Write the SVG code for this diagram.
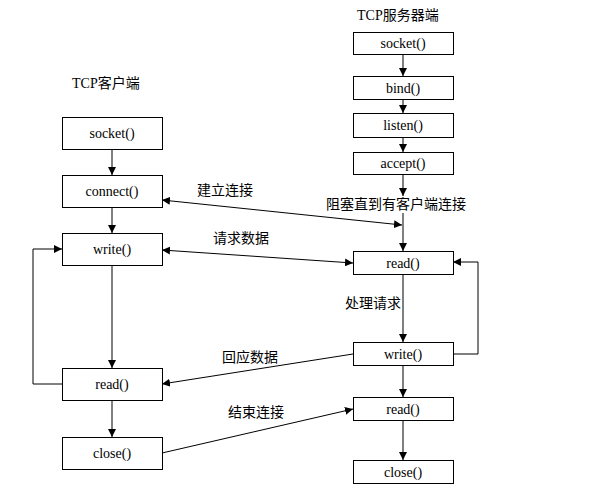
<svg xmlns="http://www.w3.org/2000/svg" width="593" height="495" viewBox="0 0 593 495">
<style>
.box{fill:#fff;stroke:#000;stroke-width:1}
.fn{font-family:"Liberation Serif","Noto Serif",serif;font-size:14px;fill:#000;text-anchor:middle;dominant-baseline:central}
.lbl{font-family:"Noto Sans CJK SC","Liberation Sans",sans-serif;font-size:14px;fill:#000}
.ttl{font-family:"Liberation Serif","Noto Sans CJK SC",serif;font-size:14px;fill:#000}
.ln{stroke:#000;stroke-width:1;fill:none}
</style>
<defs>
<marker id="ah" viewBox="0 0 10 10" refX="10" refY="5" markerWidth="8" markerHeight="8" markerUnits="userSpaceOnUse" orient="auto-start-reverse">
<path d="M0,0 L10,5 L0,10 Z" fill="#000"/>
</marker>
</defs>
<rect width="593" height="495" fill="#fff"/>
<text class="ttl" x="72" y="88">TCP<tspan font-family="Noto Sans CJK SC">客户端</tspan></text>
<text class="ttl" x="357" y="20">TCP<tspan font-family="Noto Sans CJK SC">服务器端</tspan></text>
<g id="connectors">
<line class="ln" x1="112" y1="149" x2="112" y2="175" marker-end="url(#ah)"/>
<line class="ln" x1="112" y1="207" x2="112" y2="233" marker-end="url(#ah)"/>
<line class="ln" x1="112" y1="265" x2="112" y2="368" marker-end="url(#ah)"/>
<line class="ln" x1="112" y1="400" x2="112" y2="437" marker-end="url(#ah)"/>
<polyline class="ln" points="62,384 33,384 33,249 62,249" marker-end="url(#ah)"/>
<line class="ln" x1="403" y1="54" x2="403" y2="76" marker-end="url(#ah)"/>
<line class="ln" x1="403" y1="99" x2="403" y2="113" marker-end="url(#ah)"/>
<line class="ln" x1="403" y1="137" x2="403" y2="152" marker-end="url(#ah)"/>
<line class="ln" x1="403" y1="174" x2="403" y2="196" marker-end="url(#ah)"/>
<line class="ln" x1="403" y1="213" x2="403" y2="251" marker-end="url(#ah)"/>
<line class="ln" x1="403" y1="274" x2="403" y2="342" marker-end="url(#ah)"/>
<line class="ln" x1="403" y1="365" x2="403" y2="397" marker-end="url(#ah)"/>
<line class="ln" x1="403" y1="420" x2="403" y2="460" marker-end="url(#ah)"/>
<polyline class="ln" points="453,354 478,354 478,262 453,262" marker-end="url(#ah)"/>
<line class="ln" x1="162" y1="200" x2="402" y2="225" marker-start="url(#ah)" marker-end="url(#ah)"/>
<line class="ln" x1="162" y1="250" x2="353" y2="263" marker-start="url(#ah)" marker-end="url(#ah)"/>
<line class="ln" x1="353" y1="354" x2="162" y2="384" marker-end="url(#ah)"/>
<line class="ln" x1="162" y1="453" x2="353" y2="409" marker-end="url(#ah)"/>
<text class="lbl" x="197" y="195">建立连接</text>
<text class="lbl" x="213" y="243">请求数据</text>
<text class="lbl" x="222" y="362">回应数据</text>
<text class="lbl" x="228" y="417">结束连接</text>
<text class="lbl" x="345" y="308">处理请求</text>
<text class="lbl" x="326" y="209">阻塞直到有客户端连接</text>
</g>
<g id="c-socket"><rect class="box" x="62.5" y="117.5" width="100" height="32"/><text class="fn" x="112" y="133">socket()</text></g>
<g id="c-connect"><rect class="box" x="62.5" y="175.5" width="100" height="32"/><text class="fn" x="112" y="191">connect()</text></g>
<g id="c-write"><rect class="box" x="62.5" y="233.5" width="100" height="32"/><text class="fn" x="112" y="249">write()</text></g>
<g id="c-read"><rect class="box" x="62.5" y="368.5" width="100" height="32"/><text class="fn" x="112" y="384">read()</text></g>
<g id="c-close"><rect class="box" x="62.5" y="437.5" width="100" height="32"/><text class="fn" x="112" y="453">close()</text></g>
<g id="s-socket"><rect class="box" x="353.5" y="32.5" width="100" height="22"/><text class="fn" x="403" y="43">socket()</text></g>
<g id="s-bind"><rect class="box" x="353.5" y="76.5" width="100" height="23"/><text class="fn" x="403" y="88">bind()</text></g>
<g id="s-listen"><rect class="box" x="353.5" y="113.5" width="100" height="24"/><text class="fn" x="403" y="125">listen()</text></g>
<g id="s-accept"><rect class="box" x="353.5" y="152.5" width="100" height="22"/><text class="fn" x="403" y="163">accept()</text></g>
<g id="s-read"><rect class="box" x="353.5" y="251.5" width="100" height="23"/><text class="fn" x="403" y="263">read()</text></g>
<g id="s-write"><rect class="box" x="353.5" y="342.5" width="100" height="23"/><text class="fn" x="403" y="354">write()</text></g>
<g id="s-read2"><rect class="box" x="353.5" y="397.5" width="100" height="23"/><text class="fn" x="403" y="409">read()</text></g>
<g id="s-close"><rect class="box" x="353.5" y="460.5" width="100" height="23"/><text class="fn" x="403" y="472">close()</text></g>
</svg>
